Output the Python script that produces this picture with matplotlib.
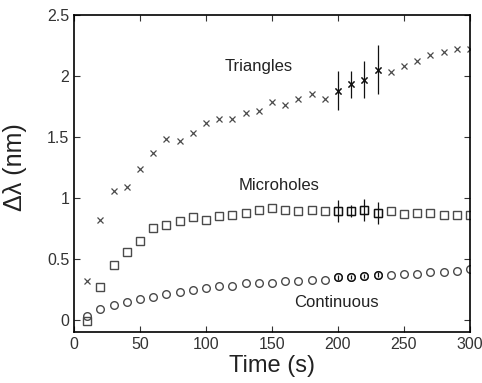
import numpy as np
import matplotlib
matplotlib.use("Agg")
import matplotlib.pyplot as plt

plt.rcParams['font.family'] = ['Liberation Sans', 'DejaVu Sans']

# time points (s)
t = np.arange(10, 301, 10)

triangles = [0.32, 0.82, 1.06, 1.09, 1.24, 1.37, 1.48, 1.47, 1.53, 1.61,
             1.65, 1.65, 1.70, 1.71, 1.79, 1.76, 1.81, 1.85, 1.81, 1.88,
             1.93, 1.97, 2.05, 2.03, 2.08, 2.12, 2.17, 2.20, 2.22, 2.22]
microholes = [-0.01, 0.27, 0.45, 0.56, 0.65, 0.75, 0.78, 0.81, 0.84, 0.82,
              0.85, 0.86, 0.88, 0.90, 0.92, 0.90, 0.89, 0.90, 0.89, 0.89,
              0.89, 0.90, 0.88, 0.89, 0.87, 0.88, 0.88, 0.86, 0.86, 0.86]
continuous = [0.03, 0.09, 0.12, 0.15, 0.17, 0.19, 0.21, 0.23, 0.245, 0.26,
              0.28, 0.28, 0.30, 0.30, 0.305, 0.315, 0.32, 0.327, 0.33, 0.35,
              0.35, 0.36, 0.37, 0.365, 0.38, 0.38, 0.39, 0.39, 0.40, 0.42]

# error bars at t = 200..230
t_err = [200, 210, 220, 230]
tri_err = [0.16, 0.11, 0.15, 0.20]
mic_err = [0.09, 0.05, 0.09, 0.09]
con_err = [0.02, 0.015, 0.015, 0.02]

fig = plt.figure(figsize=(4.82, 3.83), dpi=100)
ax = fig.add_axes([0.1535, 0.133, 0.8215, 0.828])

gray = '#4a4a4a'
ax.plot(t, triangles, 'x', color=gray, ms=4.5, mew=0.9)
ax.plot(t, microholes, 's', color=gray, mfc='none', ms=5.5, mew=1.0)
ax.plot(t, continuous, 'o', color=gray, mfc='none', ms=5.5, mew=1.0)

idx = [list(t).index(v) for v in t_err]
ax.errorbar(t_err, [triangles[i] for i in idx], yerr=tri_err, fmt='x', color='#111111', ms=4.5, mew=0.9, elinewidth=0.9, capsize=0)
ax.errorbar(t_err, [microholes[i] for i in idx], yerr=mic_err, fmt='s', color='#111111', mfc='none', ms=5.5, mew=0.9, elinewidth=0.9, capsize=0)
ax.errorbar(t_err, [continuous[i] for i in idx], yerr=con_err, fmt='o', color='#111111', mfc='none', ms=5.5, mew=0.9, elinewidth=0.9, capsize=0)

ax.text(140, 2.08, 'Triangles', ha='center', va='center', fontsize=12, color='#222222')
ax.text(155, 1.10, 'Microholes', ha='center', va='center', fontsize=12, color='#222222')
ax.text(199, 0.14, 'Continuous', ha='center', va='center', fontsize=12, color='#222222')

ax.set_xlim(0, 300)
ax.set_ylim(-0.1, 2.5)
ax.set_xticks(np.arange(0, 301, 50))
ax.set_yticks([0, 0.5, 1, 1.5, 2, 2.5])
ax.set_yticklabels(['0', '0.5', '1', '1.5', '2', '2.5'])
ax.tick_params(direction='in', top=True, right=True, labelsize=11.5, length=4, colors='#333333')
for s in ax.spines.values():
    s.set_linewidth(1.2)
ax.set_xlabel('Time (s)', fontsize=17, color='#222222', labelpad=2)
ax.set_ylabel('Δλ (nm)', fontsize=18, color='#222222')
ax.yaxis.set_label_coords(-0.118, 0.52)

fig.savefig('out.png', dpi=100)
